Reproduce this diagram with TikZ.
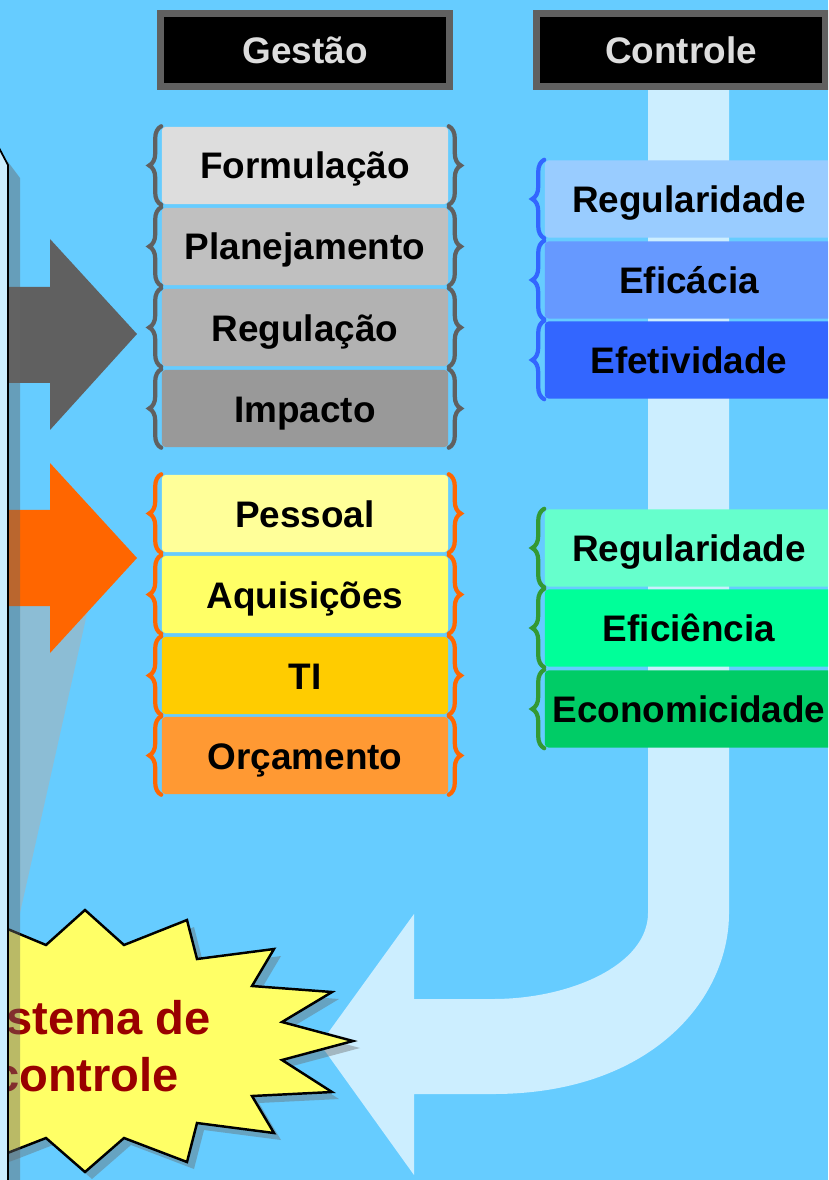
\documentclass[tikz,border=0pt]{standalone}
\usepackage{fontspec}
\setmainfont{Liberation Sans}
\usetikzlibrary{decorations.pathreplacing,shadows}

\definecolor{sky}{HTML}{66CCFF}
\definecolor{pale}{HTML}{CCEEFF}
\definecolor{headgrey}{HTML}{606060}
\definecolor{headtext}{HTML}{DDDDDD}
\definecolor{formulc}{HTML}{DDDDDD}
\definecolor{planejc}{HTML}{C0C0C0}
\definecolor{regulc}{HTML}{B2B2B2}
\definecolor{impactc}{HTML}{999999}
\definecolor{pessoalc}{HTML}{FFFF99}
\definecolor{aquisc}{HTML}{FFFF66}
\definecolor{tic}{HTML}{FFCC00}
\definecolor{orcamc}{HTML}{FF9933}
\definecolor{orangec}{HTML}{FF6600}
\definecolor{regac}{HTML}{99CCFF}
\definecolor{eficaciac}{HTML}{6699FF}
\definecolor{efetivc}{HTML}{3366FF}
\definecolor{regbc}{HTML}{66FFCC}
\definecolor{eficienc}{HTML}{00FF99}
\definecolor{economc}{HTML}{00CC66}
\definecolor{greenc}{HTML}{339933}
\definecolor{starc}{HTML}{FFFF66}
\definecolor{startext}{HTML}{990000}

\begin{document}
\begin{tikzpicture}[x=0.01cm,y=-0.01cm,
	lbl/.style={font=\bfseries\fontsize{10.5}{12}\selectfont,text height=0.33cm,text depth=0.06cm,inner sep=0pt},
	gbox/.style={lbl,minimum width=2.86cm,minimum height=0.77cm,rounded corners=1pt},
	cbox/.style={lbl,minimum width=2.88cm,minimum height=0.77cm,rounded corners=1pt},
	header/.style={lbl,fill=black,draw=headgrey,line width=2pt,minimum width=2.89cm,minimum height=0.73cm,text=headtext},
	brace/.style={decorate,decoration={brace,amplitude=0.12cm},line width=1.2pt,line cap=round}]

	\clip (0,0) rectangle (828,1180);
	\fill[sky] (0,0) rectangle (828,1180);

	\fill[pale] (648,90) -- (729,90) -- (729,913) .. controls (729,1000) and (650,1094) .. (493,1094) -- (414,1094) -- (414,1175) -- (320,1044) -- (414,914) -- (414,999) -- (493,999) .. controls (570,999) and (648,965) .. (648,913) -- cycle;

	\node[header] (gestao) at (305,50) {Gestão};
	\node[header] (controle) at (681,50) {Controle};

	\node[gbox,fill=formulc] (formulacao) at (305,165.5) {Formulação};
	\node[gbox,fill=planejc] (planejamento) at (305,246.5) {Planejamento};
	\node[gbox,fill=regulc] (regulacao) at (305,327.5) {Regulação};
	\node[gbox,fill=impactc] (impacto) at (305,408.5) {Impacto};

	\node[gbox,fill=pessoalc] (pessoal) at (305,513.5) {Pessoal};
	\node[gbox,fill=aquisc] (aquisicoes) at (305,594.5) {Aquisições};
	\node[gbox,fill=tic] (ti) at (305,675.5) {TI};
	\node[gbox,fill=orcamc] (orcamento) at (305,755.5) {Orçamento};

	\node[cbox,fill=regac] (regularidadeA) at (689,199) {Regularidade};
	\node[cbox,fill=eficaciac] (eficacia) at (689,280) {Eficácia};
	\node[cbox,fill=efetivc] (efetividade) at (689,360) {Efetividade};

	\node[cbox,fill=regbc] (regularidadeB) at (689,548) {Regularidade};
	\node[cbox,fill=eficienc] (eficiencia) at (689,628) {Eficiência};
	\node[cbox,fill=economc] (economicidade) at (689,709) {Economicidade};

	\draw[brace,headgrey] (formulacao.south west) -- (formulacao.north west);
	\draw[brace,headgrey] (formulacao.north east) -- (formulacao.south east);
	\draw[brace,headgrey] (planejamento.south west) -- (planejamento.north west);
	\draw[brace,headgrey] (planejamento.north east) -- (planejamento.south east);
	\draw[brace,headgrey] (regulacao.south west) -- (regulacao.north west);
	\draw[brace,headgrey] (regulacao.north east) -- (regulacao.south east);
	\draw[brace,headgrey] (impacto.south west) -- (impacto.north west);
	\draw[brace,headgrey] (impacto.north east) -- (impacto.south east);

	\draw[brace,orangec] (pessoal.south west) -- (pessoal.north west);
	\draw[brace,orangec] (pessoal.north east) -- (pessoal.south east);
	\draw[brace,orangec] (aquisicoes.south west) -- (aquisicoes.north west);
	\draw[brace,orangec] (aquisicoes.north east) -- (aquisicoes.south east);
	\draw[brace,orangec] (ti.south west) -- (ti.north west);
	\draw[brace,orangec] (ti.north east) -- (ti.south east);
	\draw[brace,orangec] (orcamento.south west) -- (orcamento.north west);
	\draw[brace,orangec] (orcamento.north east) -- (orcamento.south east);

	\draw[brace,efetivc] (regularidadeA.south west) -- (regularidadeA.north west);
	\draw[brace,efetivc] (eficacia.south west) -- (eficacia.north west);
	\draw[brace,efetivc] (efetividade.south west) -- (efetividade.north west);

	\draw[brace,greenc] (regularidadeB.south west) -- (regularidadeB.north west);
	\draw[brace,greenc] (eficiencia.south west) -- (eficiencia.north west);
	\draw[brace,greenc] (economicidade.south west) -- (economicidade.north west);

	\fill[black!31,opacity=.52] (20,560) -- (99,560) -- (20,913) -- cycle;

	\filldraw[fill=starc,draw=black,line width=0.7pt,drop shadow={shadow xshift=0.07cm,shadow yshift=-0.07cm,fill=black!60,opacity=.4}]
		(10,930) -- (46,945) -- (85,910) -- (124,945) -- (187,920) -- (197,959) -- (274,949) -- (252,986)
		-- (332,992) -- (282,1022) -- (353,1041) -- (282,1060) -- (332,1092) -- (252,1096) -- (274,1133)
		-- (197,1123) -- (187,1162) -- (124,1138) -- (85,1172) -- (46,1138) -- (10,1152) -- (-40,1170)
		-- (-70,1041) -- (-40,912) -- cycle;
	\node[font=\bfseries\fontsize{13.4}{16.2}\selectfont,text=startext,align=center,inner sep=0pt] (sistema) at (86,1046) {Sistema de\\controle};

	\fill[headgrey] (0,287) -- (50,287) -- (50,239) -- (137,334) -- (50,430) -- (50,383) -- (0,383) -- cycle;
	\fill[orangec] (0,510) -- (50,510) -- (50,463) -- (137,558) -- (50,653) -- (50,606) -- (0,606) -- cycle;

	\fill[black!60,opacity=.45] (8,162) -- (20,178) -- (20,1180) -- (8,1180) -- cycle;
	\filldraw[fill=pale,draw=black,line width=0.5pt] (-2,146) -- (8,165) -- (8,1185) -- (-2,1185);

\end{tikzpicture}
\end{document}
